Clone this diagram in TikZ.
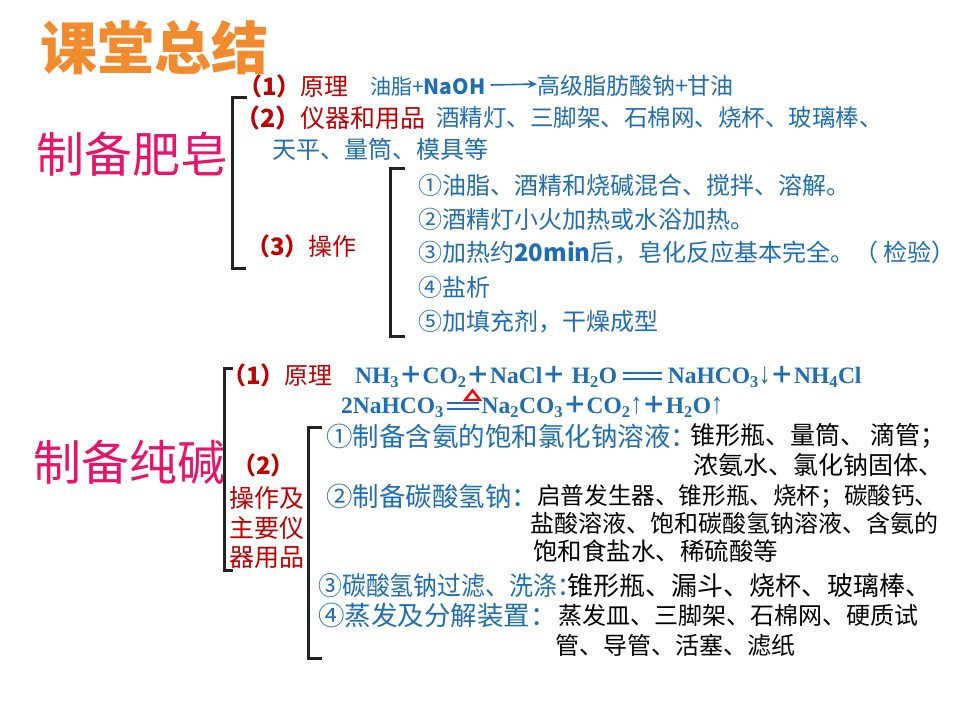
\documentclass[tikz,border=0pt]{standalone}
\usepackage{fontspec}
\setmainfont{Noto Sans CJK SC}
\newfontfamily\cjkf{Noto Sans CJK SC}
\newfontfamily\eqf{Liberation Serif}
\usetikzlibrary{arrows.meta}
\definecolor{ttlorange}{HTML}{F28A2E}
\definecolor{pinkc}{HTML}{E8146C}
\definecolor{dred}{HTML}{C00000}
\definecolor{bluec}{HTML}{1F6EB4}
\definecolor{brkc}{HTML}{222222}
\newcommand\dbl[2]{\kern#2\rlap{\rule[0.14em]{#1}{2.2pt}}\rule[0.40em]{#1}{2.2pt}\kern#2}
\newcommand\pls{{\cjkf\bfseries ＋}}
\newcommand\dna{{\eqf\mdseries\scalebox{1}[1.25]{↓}}}
\newcommand\upa{{\eqf\mdseries\scalebox{1}[1.25]{↑}}}
\begin{document}
\begin{tikzpicture}[x=1pt,y=-1pt,
  txt/.style={anchor=west,inner sep=0pt,font=\fontsize{24}{28}\selectfont},
  redt/.style={txt,text=dred},
  bluet/.style={txt,text=bluec},
  blkt/.style={txt,text=black},
  bigt/.style={anchor=west,inner sep=0pt,text=pinkc,font=\fontsize{48}{52}\selectfont},
  eqt/.style={anchor=west,inner sep=0pt,text=bluec,font=\fontsize{23.5}{26}\selectfont\eqf\bfseries},
  brk/.style={line width=3pt,draw=brkc},
  arr/.style={-{Stealth[length=9pt,width=8pt]},line width=1.6pt,draw=bluec}
]
\useasboundingbox (0,0) rectangle (960,720);
\fill[white] (0,0) rectangle (960,720);

% title
\node[anchor=west,inner sep=0pt,text=ttlorange,font=\fontsize{57}{62}\selectfont\bfseries] (title) at (40,48) {课堂总结};

% ---------- part 1 ----------
\node[bigt] (soap) at (36,154) {制备肥皂};
\coordinate (b1t) at (247,97);
\coordinate (b1b) at (246,268);
\draw[brk] (b1t) -- (232,97) -- (232,268) -- (b1b);

\node[redt] (p1) at (238,86) {\bfseries（1）\mdseries 原理};
\node[bluet,font=\fontsize{21}{24}\selectfont] (r1) at (370,87) {油脂+\bfseries NaOH};
\node[bluet,font=\fontsize{23}{26}\selectfont] (r2) at (537,86) {高级脂肪酸钠+甘油};
\draw[arr] ([xshift=5pt,yshift=2pt]r1.east) -- ([yshift=2pt]r2.west);

\node[redt,font=\fontsize{25}{28}\selectfont] (p2) at (235,118) {\bfseries（2）\mdseries 仪器和用品};
\node[bluet,font=\fontsize{23.5}{28}\selectfont] (p2a) at (436,118) {酒精灯、三脚架、石棉网、烧杯、玻璃棒、};
\node[bluet] (p2b) at (272,149) {天平、量筒、模具等};

\node[redt] (p3) at (246,246) {\bfseries（3）\mdseries 操作};
\coordinate (b2t) at (405,168);
\coordinate (b2b) at (405,336);
\draw[brk] (b2t) -- (390,168) -- (390,336) -- (b2b);

\node[bluet] (s1) at (418,185) {①油脂、酒精和烧碱混合、搅拌、溶解。};
\node[bluet] (s2) at (418,219) {②酒精灯小火加热或水浴加热。};
\node[bluet] (s3) at (418,253) {③加热约\bfseries 20min\mdseries 后，皂化反应基本完全。（ 检验）};
\node[bluet] (s4) at (418,287) {④盐析};
\node[bluet] (s5) at (418,322) {⑤加填充剂，干燥成型};

% ---------- part 2 ----------
\node[bigt] (soda) at (33,462) {制备纯碱};
\coordinate (b3t) at (233,368);
\coordinate (b3b) at (233,570);
\draw[brk] (b3t) -- (224,368) -- (224,570) -- (b3b);

\node[redt] (q1) at (222,375) {\bfseries（1）\mdseries 原理};
\node[eqt] (eq1) at (355,377) {NH\textsubscript{3}\pls CO\textsubscript{2}\pls NaCl\pls\ H\textsubscript{2}O\dbl{1.65em}{6pt}NaHCO\textsubscript{3}\dna\pls NH\textsubscript{4}Cl};
\node[eqt] (eq2) at (341,407) {2NaHCO\textsubscript{3}\dbl{1.35em}{3pt}Na\textsubscript{2}CO\textsubscript{3}\pls CO\textsubscript{2}\upa\pls H\textsubscript{2}O\upa};
\draw[draw=red,line width=2.4pt,line join=miter] (465,400) -- (480,400) -- (472.5,390.5) -- cycle;

\node[redt] (q2) at (232,465) {\bfseries（2）};
\node[redt,font=\fontsize{25}{28}\selectfont] (q2a) at (229,498) {操作及};
\node[redt,font=\fontsize{25}{28}\selectfont] (q2b) at (229,528) {主要仪};
\node[redt,font=\fontsize{25}{28}\selectfont] (q2c) at (229,558) {器用品};

\coordinate (b4t) at (322,427);
\coordinate (b4b) at (322,658);
\draw[brk] (b4t) -- (308,427) -- (308,658) -- (b4b);

\node[bluet,font=\fontsize{26.5}{28}\selectfont] (t1) at (326,436) {①制备含氨的饱和氯化钠溶液：};
\node[blkt,font=\fontsize{25}{28}\selectfont] (t1a) at (690,436) {锥形瓶、量筒、 滴管；};
\node[blkt,font=\fontsize{25}{28}\selectfont] (t1b) at (693,465) {浓氨水、氯化钠固体、};
\node[bluet,font=\fontsize{26.5}{28}\selectfont] (t2) at (326,496) {②制备碳酸氢钠：};
\node[blkt,font=\fontsize{23.6}{28}\selectfont] (t2a) at (537,496) {启普发生器、锥形瓶、烧杯；碳酸钙、};
\node[blkt,font=\fontsize{24}{28}\selectfont] (t2b) at (530,523) {盐酸溶液、饱和碳酸氢钠溶液、含氨的};
\node[blkt,font=\fontsize{24.5}{28}\selectfont] (t2c) at (533,551) {饱和食盐水、稀硫酸等};
\node[bluet,font=\fontsize{26}{28}\selectfont] (t3) at (318,586) {\scalebox{0.92}[1]{③碳酸氢钠过滤、洗涤：}};
\node[blkt,font=\fontsize{26}{28}\selectfont] (t3a) at (567,586) {锥形瓶、漏斗、烧杯、玻璃棒、};
\node[bluet,font=\fontsize{26.5}{28}\selectfont] (t4) at (318,615) {④蒸发及分解装置：};
\node[blkt] (t4a) at (558,615) {蒸发皿、三脚架、石棉网、硬质试};
\node[blkt] (t4b) at (555,645) {管、导管、活塞、滤纸};
\end{tikzpicture}
\end{document}
